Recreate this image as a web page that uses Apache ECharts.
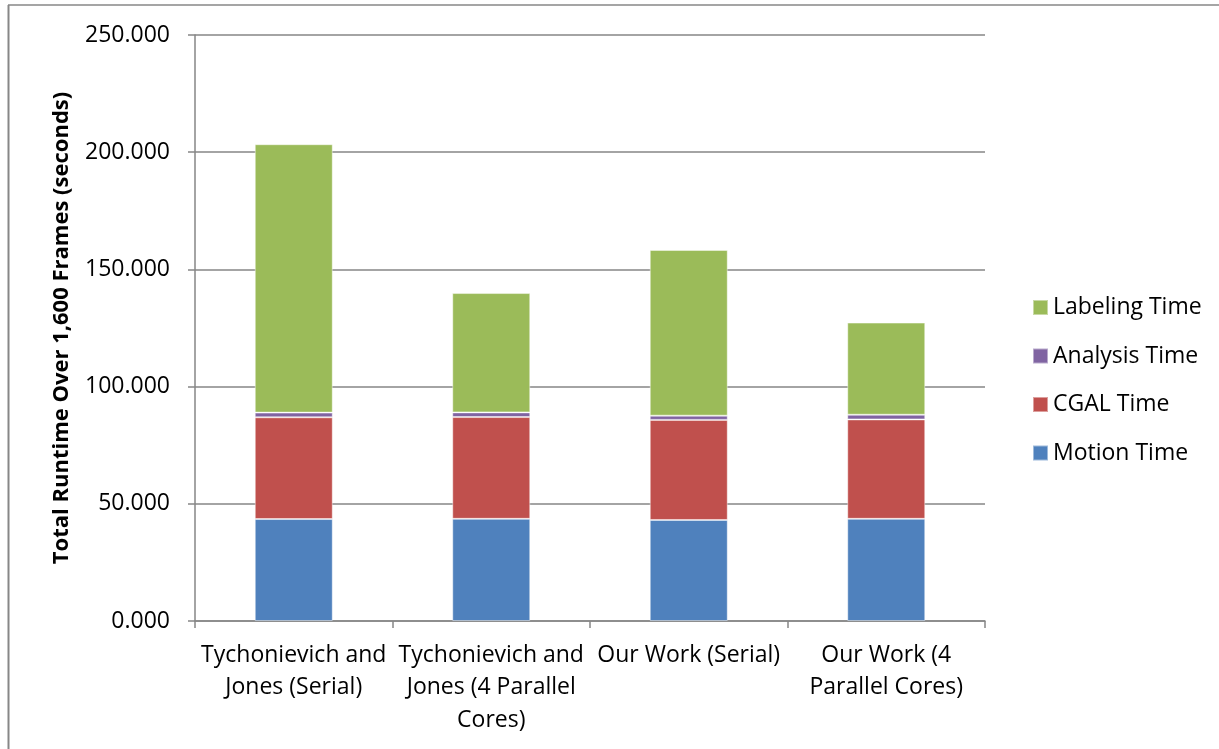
<!DOCTYPE html>
<html>
<head>
<meta charset="utf-8">
<script src="https://cdn.jsdelivr.net/npm/echarts@6/dist/echarts.min.js"></script>
<style>
html,body{margin:0;padding:0;background:#fff;}
#chart{width:1219px;height:749px;}
</style>
</head>
<body>
<div id="chart"></div>
<script>
var categories = [
  "Tychonievich and\nJones (Serial)",
  "Tychonievich and\nJones (4 Parallel\nCores)",
  "Our Work (Serial)",
  "Our Work (4\nParallel Cores)"
];
var motionTime = [43.5, 43.6, 43.1, 43.6];
var cgalTime = [43.4, 43.4, 42.7, 42.4];
var analysisTime = [2.0, 2.0, 1.8, 2.0];
var labelingTime = [114.5, 50.9, 70.7, 39.3];
var yTicks = [0, 50, 100, 150, 200, 250];

var FONT = "Open Sans";
var GRAY = "#868686";
var chart = echarts.init(document.getElementById('chart'), null, {renderer: 'canvas'});

function barSeries(name, data, color) {
  return {
    name: name,
    type: 'bar',
    stack: 'total',
    data: data,
    barWidth: 78,
    itemStyle: {color: color, borderColor: 'rgba(255,255,255,0.45)', borderWidth: 1},
    emphasis: {disabled: true}
  };
}

chart.setOption({
  animation: false,
  backgroundColor: '#fff',
  graphic: [
    {type: 'line', shape: {x1: 8, y1: 5, x2: 1219, y2: 5}, style: {stroke: '#878787', lineWidth: 1.5}},
    {type: 'line', shape: {x1: 8.5, y1: 5, x2: 8.5, y2: 749}, style: {stroke: '#878787', lineWidth: 2}}
  ],
  grid: {left: 195, right: 234, top: 35, bottom: 128, containLabel: false},
  legend: {
    orient: 'vertical',
    left: 1027,
    top: 290,
    itemWidth: 15,
    itemHeight: 15,
    itemGap: 23.5,
    icon: 'rect',
    data: ['Labeling Time', 'Analysis Time', 'CGAL Time', 'Motion Time'],
    textStyle: {fontFamily: FONT, fontSize: 23, color: '#000', lineHeight: 25, padding: [0, 0, 0, 0]}
  },
  xAxis: {
    type: 'category',
    data: categories,
    axisLine: {lineStyle: {color: GRAY, width: 1.5}},
    axisTick: {show: true, length: 7, lineStyle: {color: GRAY, width: 1.5}},
    axisLabel: {fontFamily: FONT, fontSize: 23, color: '#000', lineHeight: 32.5, margin: 18, interval: 0}
  },
  yAxis: {
    type: 'value',
    min: yTicks[0],
    max: yTicks[yTicks.length - 1],
    interval: yTicks[1] - yTicks[0],
    name: 'Total Runtime Over 1,600 Frames (seconds)',
    nameLocation: 'middle',
    nameGap: 122,
    nameTextStyle: {fontFamily: FONT, fontSize: 22, fontWeight: 'bold', color: '#000'},
    axisLine: {show: true, lineStyle: {color: GRAY, width: 1.5}},
    axisTick: {show: true, length: 7, lineStyle: {color: GRAY, width: 1.5}},
    splitLine: {lineStyle: {color: GRAY, width: 1.5}},
    axisLabel: {fontFamily: FONT, fontSize: 23, color: '#000', margin: 25,
      formatter: function (v) { return v.toFixed(3); }}
  },
  series: [
    barSeries('Motion Time', motionTime, '#4F81BD'),
    barSeries('CGAL Time', cgalTime, '#C0504D'),
    barSeries('Analysis Time', analysisTime, '#8064A2'),
    barSeries('Labeling Time', labelingTime, '#9BBB59')
  ]
});
</script>
</body>
</html>
